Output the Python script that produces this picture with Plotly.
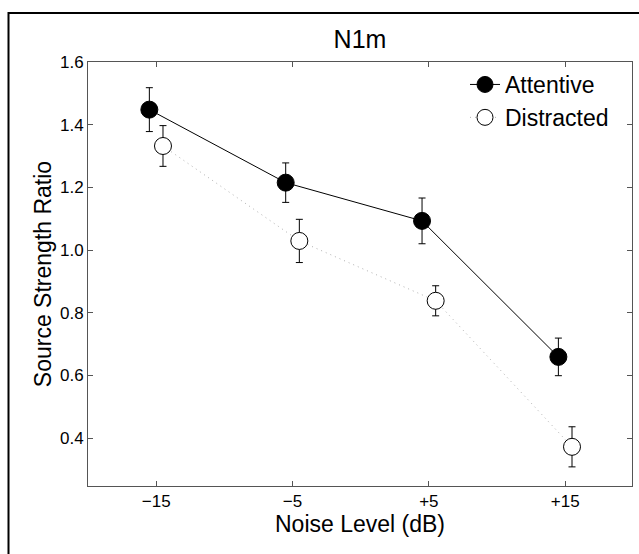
import plotly.graph_objects as go

categories = ["\u221215", "\u22125", "+5", "+15"]
attentive = [1.448, 1.215, 1.093, 0.659]
attentive_err = [0.070, 0.063, 0.073, 0.060]
distracted = [1.332, 1.029, 0.838, 0.372]
distracted_err = [0.065, 0.069, 0.048, 0.064]

pos = list(range(len(categories)))
off = 0.05

fig = go.Figure()
fig.add_trace(go.Scatter(
    x=[p - off for p in pos], y=attentive, name="Attentive", mode="lines+markers",
    line=dict(color="black", width=1),
    marker=dict(size=17, color="black", line=dict(color="black", width=1)),
    error_y=dict(type="data", array=attentive_err, color="black", thickness=1, width=3.5),
))
fig.add_trace(go.Scatter(
    x=[p + off for p in pos], y=distracted, name="Distracted", mode="lines+markers",
    line=dict(color="#b0b0b0", width=1, dash="1px,4px"),
    marker=dict(size=17, color="white", line=dict(color="black", width=1)),
    error_y=dict(type="data", array=distracted_err, color="black", thickness=1, width=3.5),
))

L, R, T, B = 88, 7, 62, 68
W, H = 639, 554
pw, ph = W - L - R, H - T - B

def px_x(x):
    return (x - L) / pw

def px_y(y):
    return 1 - (y - T) / ph

fig.add_shape(type="rect", xref="paper", yref="paper",
              x0=px_x(8.5), x1=px_x(642), y0=px_y(13), y1=px_y(557),
              line=dict(color="black", width=2), fillcolor="rgba(0,0,0,0)", layer="above")

font = "Liberation Sans, Arial, Helvetica, sans-serif"
fig.update_layout(
    width=W, height=H, margin=dict(l=L, r=R, t=T, b=B),
    paper_bgcolor="white", plot_bgcolor="white",
    font=dict(family=font, color="black", size=16),
    title=dict(text="N1m", x=0.5, xref="paper", y=1 - 39 / H, yanchor="middle",
               font=dict(size=25, family=font, color="black")),
    showlegend=True,
    legend=dict(x=px_x(465), y=px_y(63), xanchor="left", yanchor="top",
                bgcolor="rgba(0,0,0,0)", font=dict(size=23, family=font),
                tracegroupgap=0, itemsizing="trace"),
    xaxis=dict(range=[-0.5, 3.49], tickmode="array", tickvals=pos, ticktext=categories,
               showline=True, linecolor="#555555", linewidth=1, mirror="ticks",
               ticks="inside", ticklen=5, tickcolor="#555555", showgrid=False, zeroline=False,
               tickfont=dict(size=17), title=dict(text="Noise Level (dB)", font=dict(size=23), standoff=3)),
    yaxis=dict(range=[0.247, 1.6], tickmode="array", tickvals=[0.4, 0.6, 0.8, 1.0, 1.2, 1.4, 1.6],
               ticktext=["0.4", "0.6", "0.8", "1.0", "1.2", "1.4", "1.6"],
               showline=True, linecolor="#555555", linewidth=1, mirror="ticks",
               ticks="inside", ticklen=5, tickcolor="#555555", showgrid=False, zeroline=False,
               tickfont=dict(size=17), title=dict(text="Source Strength Ratio", font=dict(size=23), standoff=1)),
)

fig.write_html("out.html")
